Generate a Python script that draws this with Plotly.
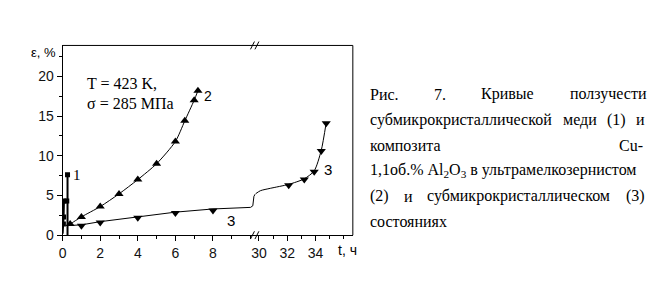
import plotly.graph_objects as go

W, H = 649, 296

# ---------------- data ----------------
# curve 1 (squares)
t1_line = [0.0, 0.03, 0.05, 0.07, 0.26, 0.26, 0.26]
e1_line = [0.2, 1.0, 2.3, 4.3, 4.3, 7.6, 0.0]
t1_pts = [0.04, 0.05, 0.07, 0.22, 0.26]
e1_pts = [1.4, 2.3, 4.3, 4.3, 7.6]

# curve 2 (up triangles)
t2_line = [0.26, 0.4, 1.0, 2.0, 3.0, 4.0, 5.0, 6.0, 6.5, 7.0, 7.2]
e2_line = [1.2, 1.4, 2.3, 3.6, 5.2, 7.0, 9.0, 11.8, 14.4, 17.0, 18.2]
t2_pts = [0.4, 1.0, 2.0, 3.0, 4.0, 5.0, 6.0, 6.5, 7.0, 7.2]
e2_pts = [1.4, 2.3, 3.6, 5.2, 7.0, 9.0, 11.8, 14.4, 17.0, 18.2]

# curve 3 (down triangles), left part (0..10 h) and right part (30..35 h)
t3a_line = [0.26, 1.0, 2.0, 4.0, 6.0, 8.0, 10.0, 10.12, 10.18, 10.26]
e3a_line = [1.2, 1.3, 1.7, 2.3, 2.9, 3.3, 3.5, 3.7, 4.9, 5.2]
t3a_pts = [1.0, 2.0, 4.0, 6.0, 8.0]
e3a_pts = [1.2, 1.6, 2.2, 2.8, 3.1]
t3b_line = [29.75, 30.1, 30.8, 32.1, 33.2, 33.9, 34.4, 34.75]
e3b_line = [5.2, 5.6, 5.9, 6.4, 7.1, 8.1, 10.7, 14.2]
t3b_pts = [32.1, 33.2, 33.9, 34.4, 34.75]
e3b_pts = [6.3, 7.0, 8.0, 10.6, 14.1]

x_left_ticks = [0, 2, 4, 6, 8]
x_right_ticks = [30, 32, 34]
y_ticks = [0, 5, 10, 15, 20]

caption_lines = [
    ["Рис.", "7.", "Кривые", "ползучести"],
    ["субмикрокристаллической", "меди", "(1)", "и"],
    ["композита", "Cu-"],
    ["1,1об.% Al<sub>2</sub>O<sub>3</sub> в ультрамелкозернистом"],
    ["(2)", "и", "субмикрокристаллическом", "(3)"],
    ["состояниях"],
]

# ---------------- layout helpers ----------------
def px(x):
    return x / W

def py(y):
    return 1 - y / H

X0, XB, X1 = 59, 253, 351     # plot left, break, right (pixels)
Y0, Y1 = 241.7, 46.7          # plot bottom, top (pixels)

fig = go.Figure()

def line(x, y, xa, width=1, shape="spline", smooth=0.6):
    fig.add_trace(go.Scatter(x=x, y=y, xaxis=xa, yaxis="y", mode="lines",
                             line=dict(color="black", width=width, shape=shape,
                                       smoothing=smooth if shape == "spline" else None),
                             hoverinfo="skip", showlegend=False))

def pts(x, y, xa, sym, size):
    fig.add_trace(go.Scatter(x=x, y=y, xaxis=xa, yaxis="y", mode="markers",
                             marker=dict(symbol=sym, size=size, color="black"),
                             hoverinfo="skip", showlegend=False))

line(t1_line, e1_line, "x", width=2, shape="linear")
pts(t1_pts, e1_pts, "x", "square", 5)
line(t2_line, e2_line, "x", smooth=0.7)
pts(t2_pts, e2_pts, "x", "triangle-up", 8)
line(t3a_line, e3a_line, "x", shape="linear")
pts(t3a_pts, e3a_pts, "x", "triangle-down", 8)
line(t3b_line, e3b_line, "x2", smooth=0.7)
pts(t3b_pts, e3b_pts, "x2", "triangle-down", 8)

axis_common = dict(showgrid=False, zeroline=False, showline=True, linecolor="black",
                   linewidth=1, ticks="outside", ticklen=5, tickwidth=1, tickcolor="black",
                   tickfont=dict(family="Liberation Sans", size=14, color="#111"))

fig.update_layout(
    width=W, height=H, margin=dict(l=0, r=0, t=0, b=0),
    paper_bgcolor="white", plot_bgcolor="white",
    xaxis=dict(domain=[px(X0), px(XB)], range=[0, 10.26], anchor="y",
               tickmode="array", tickvals=x_left_ticks,
               minor=dict(dtick=1, tick0=0, ticks="outside", ticklen=3, tickcolor="black"),
               **axis_common),
    xaxis2=dict(domain=[px(XB), px(X1)], range=[29.75, 36.63], anchor="y",
                tickmode="array", tickvals=x_right_ticks,
                minor=dict(dtick=1, tick0=0, ticks="outside", ticklen=3, tickcolor="black"),
                **axis_common),
    yaxis=dict(domain=[py(Y0), py(Y1)], range=[0, 23.9], anchor="x",
               tickmode="array", tickvals=y_ticks,
               minor=dict(dtick=2.5, tick0=0, ticks="outside", ticklen=3, tickcolor="black"),
               **axis_common),
)

shapes = []
# top and right frame lines
shapes.append(dict(type="line", xref="paper", yref="paper", x0=px(X0), x1=px(X1),
                   y0=py(Y1), y1=py(Y1), line=dict(color="black", width=1)))
shapes.append(dict(type="line", xref="paper", yref="paper", x0=px(X1), x1=px(X1),
                   y0=py(Y1), y1=py(Y0), line=dict(color="black", width=1)))
# break marks "//" on top and bottom
for yc in (Y1, Y0):
    for dx in (-3, 1.5):
        shapes.append(dict(type="line", xref="paper", yref="paper",
                           x0=px(XB + dx - 2), y0=py(yc + 4),
                           x1=px(XB + dx + 2), y1=py(yc - 4),
                           line=dict(color="black", width=1)))
fig.update_layout(shapes=shapes)

serif = "Liberation Serif"
sans = "Liberation Sans"

def ann(text, x, y, xanchor="center", size=14, family=sans, xref="paper", yref="paper"):
    fig.add_annotation(text=text, x=x, y=y, xref=xref, yref=yref, xanchor=xanchor,
                       yanchor="middle", showarrow=False,
                       font=dict(family=family, size=size, color="black"))

# axis titles
ann("ε, %", px(40), py(54), size=13)
ann("t, ч", px(334), py(257), xanchor="left", size=14)

# condition text
ann("T = 423 K,", px(81), py(86), xanchor="left", size=16, family=serif)
ann("σ = 285 МПа", px(81), py(106), xanchor="left", size=16, family=serif)

# curve labels (data coordinates)
ann("1", 0.74, 7.6, xanchor="center", size=15, family=serif, xref="x", yref="y")
ann("2", 7.76, 17.5, xanchor="center", size=14, family=sans, xref="x", yref="y")
ann("3", 34.85, 8.3, xanchor="center", size=15, family=sans, xref="x2", yref="y")
ann("3", 8.96, 1.8, xanchor="center", size=15, family=sans, xref="x", yref="y")

# caption (justified, word by word)
CL, CR = 366, 643
line_y = [97, 123.2, 149.4, 175.6, 201.8, 228]
word_w = {"Рис.": 29, "7.": 12, "Кривые": 54, "ползучести": 76,
          "субмикрокристаллической": 184, "меди": 34, "(1)": 19, "и": 9,
          "композита": 72, "Cu-": 26,
          "(2)": 19, "субмикрокристаллическом": 185, "(3)": 19}
for words, yy in zip(caption_lines, line_y):
    if len(words) == 1:
        ann(words[0], px(CL), py(yy), xanchor="left", size=16, family=serif)
        continue
    total = sum(word_w[w] for w in words)
    gap = (CR - CL - total) / (len(words) - 1)
    xx = CL
    for w in words:
        ann(w, px(xx), py(yy), xanchor="left", size=16, family=serif)
        xx += word_w[w] + gap

fig.write_html("out.html")
